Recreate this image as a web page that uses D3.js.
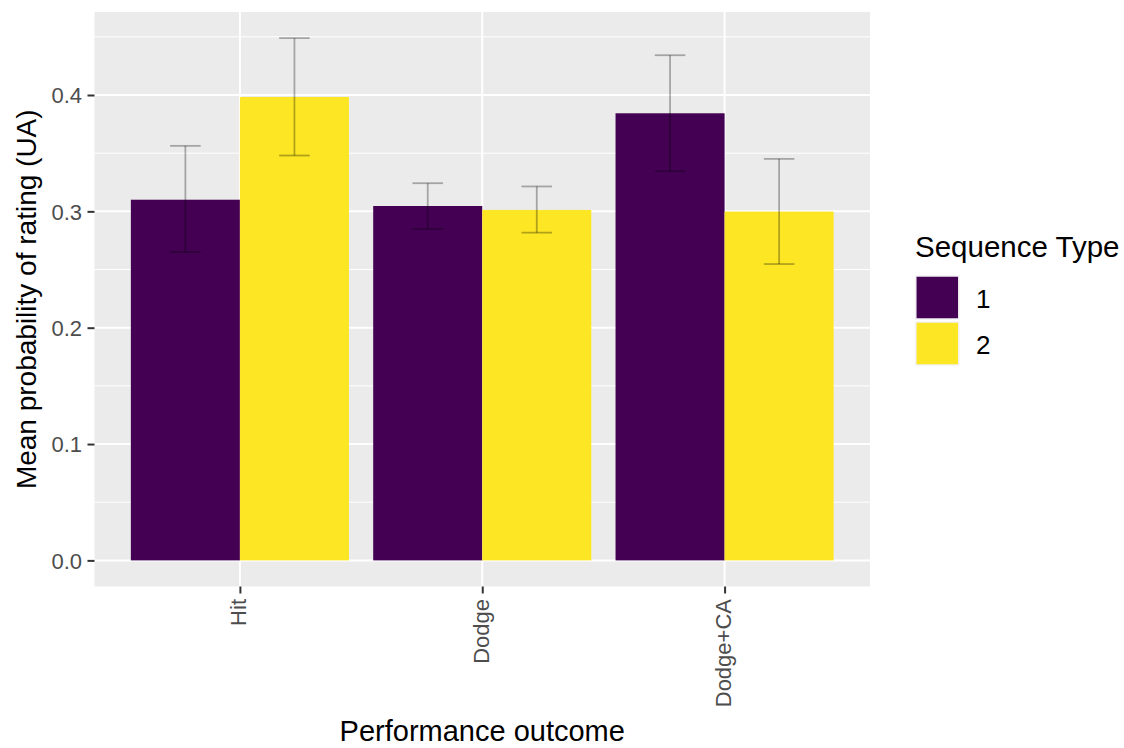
<!DOCTYPE html>
<html><head><meta charset="utf-8">
<script src="https://cdn.jsdelivr.net/npm/d3@7"></script>
<style>body{margin:0;background:#fff;} text{font-family:"Liberation Sans",Arial,sans-serif;}</style>
</head><body>
<svg id="c" width="1124" height="748"></svg>
<script>
const categories = ["Hit", "Dodge", "Dodge+CA"];
const seriesNames = ["1", "2"];
const means1 = [0.310, 0.3046, 0.3843];
const means2 = [0.3983, 0.3012, 0.2998];
const lower1 = [0.265, 0.2848, 0.3345];
const upper1 = [0.3563, 0.3242, 0.4342];
const lower2 = [0.348, 0.2817, 0.2547];
const upper2 = [0.4489, 0.3214, 0.3451];
const colors = ["#440154", "#FDE725"];
const yTicks = [0, 0.1, 0.2, 0.3, 0.4];
const yMinor = [0.05, 0.15, 0.25, 0.35, 0.45];

const svg = d3.select("#c");
const P = {l: 94.5, t: 12, r: 870, b: 586.5};
const ymax = d3.max(upper1.concat(upper2));
const pad = ymax * 0.05;
const y = d3.scaleLinear().domain([-pad, ymax + pad]).range([P.b, P.t]);
// discrete x scale with 0.6 unit expansion on each side
const x = d3.scalePoint().domain(categories).range([P.l, P.r]).padding(0.6);
const unit = x.step();
const xs = d3.scaleBand().domain(seriesNames).range([-unit*0.45, unit*0.45]);

svg.append("rect").attr("x", P.l).attr("y", P.t).attr("width", P.r - P.l).attr("height", P.b - P.t).attr("fill", "#EBEBEB");
const g = svg.append("g");
yMinor.forEach(v => g.append("line").attr("x1", P.l).attr("x2", P.r).attr("y1", y(v)).attr("y2", y(v)).attr("stroke", "#fff").attr("stroke-width", 1));
yTicks.forEach(v => g.append("line").attr("x1", P.l).attr("x2", P.r).attr("y1", y(v)).attr("y2", y(v)).attr("stroke", "#fff").attr("stroke-width", 2));
categories.forEach(c => g.append("line").attr("x1", x(c)).attr("x2", x(c)).attr("y1", P.t).attr("y2", P.b).attr("stroke", "#fff").attr("stroke-width", 2));

const data = [];
categories.forEach((c, i) => {
  data.push({c, s: "1", v: means1[i], lo: lower1[i], hi: upper1[i]});
  data.push({c, s: "2", v: means2[i], lo: lower2[i], hi: upper2[i]});
});
const col = d3.scaleOrdinal().domain(seriesNames).range(colors);
g.selectAll("rect.bar").data(data).join("rect").attr("class", "bar")
  .attr("x", d => x(d.c) + xs(d.s)).attr("width", xs.bandwidth())
  .attr("y", d => y(d.v)).attr("height", d => y(0) - y(d.v)).attr("fill", d => col(d.s));

const capW = xs.bandwidth() * 0.28;
const mid = d => x(d.c) + xs(d.s) + xs.bandwidth()/2;
const eb = g.selectAll("g.eb").data(data).join("g").attr("class", "eb")
  .attr("stroke", "#000").attr("stroke-opacity", 0.3).attr("stroke-width", 1.8);
eb.append("line").attr("x1", mid).attr("x2", mid).attr("y1", d => y(d.lo)).attr("y2", d => y(d.hi));
eb.append("line").attr("x1", d => mid(d) - capW/2).attr("x2", d => mid(d) + capW/2).attr("y1", d => y(d.hi)).attr("y2", d => y(d.hi));
eb.append("line").attr("x1", d => mid(d) - capW/2).attr("x2", d => mid(d) + capW/2).attr("y1", d => y(d.lo)).attr("y2", d => y(d.lo));

// y axis
const yAxis = d3.axisLeft(y).tickValues(yTicks).tickFormat(d3.format(".1f")).tickSize(7).tickPadding(5.5);
const ya = svg.append("g").attr("transform", `translate(${P.l},0)`).call(yAxis);
ya.select(".domain").remove();
ya.selectAll(".tick line").attr("stroke", "#333").attr("stroke-width", 2);
ya.selectAll(".tick text").attr("fill", "#4D4D4D").attr("dy", "0.36em").style("font-size", "22px").style("font-family", "Liberation Sans, Arial, sans-serif");

// x axis
const xAxis = d3.axisBottom(x).tickSize(7).tickPadding(0);
const xa = svg.append("g").attr("transform", `translate(0,${P.b})`).call(xAxis);
xa.select(".domain").remove();
xa.selectAll(".tick line").attr("stroke", "#333").attr("stroke-width", 2);
xa.selectAll(".tick text").attr("transform", "translate(6,12.5) rotate(-90)").attr("x", 0).attr("y", 0).attr("dy", null)
  .attr("text-anchor", "end").attr("fill", "#4D4D4D").style("font-size", "22px").style("font-family", "Liberation Sans, Arial, sans-serif");

svg.append("text").attr("x", (P.l + P.r)/2).attr("y", 741).attr("text-anchor", "middle").style("font-size", "29px").attr("fill", "#000").text("Performance outcome");
svg.append("text").attr("transform", `translate(36,${(P.t + P.b)/2}) rotate(-90)`).attr("text-anchor", "middle").style("font-size", "28px").attr("fill", "#000").text("Mean probability of rating (UA)");

// legend
const lg = svg.append("g").attr("transform", "translate(915,0)");
lg.append("text").attr("x", 0).attr("y", 256.5).style("font-size", "29.5px").attr("fill", "#000").text("Sequence Type");
seriesNames.forEach((s, i) => {
  lg.append("rect").attr("x", 0.8).attr("y", 276 + i*46).attr("width", 43).attr("height", 43).attr("fill", col(s)).attr("stroke", "#F2F2F2").attr("stroke-width", 1.5);
  lg.append("text").attr("x", 61).attr("y", 307.5 + i*46).style("font-size", "26px").attr("fill", "#000").text(s);
});
</script>
</body></html>
